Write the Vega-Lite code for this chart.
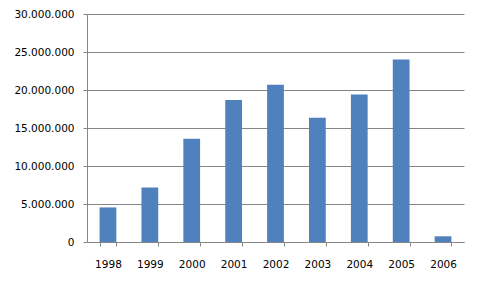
{
  "$schema": "https://vega.github.io/schema/vega-lite/v6.json",
  "autosize": {"type": "none"},
  "padding": {"left": 87, "top": 14, "right": 18, "bottom": 47},
  "width": 377,
  "height": 228,
  "background": "white",
  "config": {
    "locale": {"number": {"decimal": ",", "thousands": ".", "grouping": [3], "currency": ["", ""]}},
    "view": {"stroke": null},
    "font": "DejaVu Sans",
    "axis": {"labelFont": "DejaVu Sans", "labelFontSize": 10.5, "labelColor": "#000000", "domainColor": "#868686", "tickColor": "#868686", "gridColor": "#868686", "title": null}
  },
  "data": {
    "values": [
      {"year": "1998", "value": 4550000},
      {"year": "1999", "value": 7180000},
      {"year": "2000", "value": 13600000},
      {"year": "2001", "value": 18700000},
      {"year": "2002", "value": 20700000},
      {"year": "2003", "value": 16350000},
      {"year": "2004", "value": 19400000},
      {"year": "2005", "value": 24000000},
      {"year": "2006", "value": 750000}
    ]
  },
  "mark": {"type": "bar", "color": "#4F81BD"},
  "encoding": {
    "x": {
      "field": "year", "type": "ordinal",
      "scale": {"paddingInner": 0.6, "paddingOuter": 0.3},
      "axis": {"labelAngle": 0, "tickBand": "extent", "tickSize": 4, "labelPadding": 13, "grid": false, "domainWidth": 1}
    },
    "y": {
      "field": "value", "type": "quantitative",
      "scale": {"domain": [0, 30000000], "nice": false},
      "axis": {"values": [0, 5000000, 10000000, 15000000, 20000000, 25000000, 30000000], "format": ",d", "tickSize": 4, "labelPadding": 9, "grid": true, "gridWidth": 1}
    }
  }
}
